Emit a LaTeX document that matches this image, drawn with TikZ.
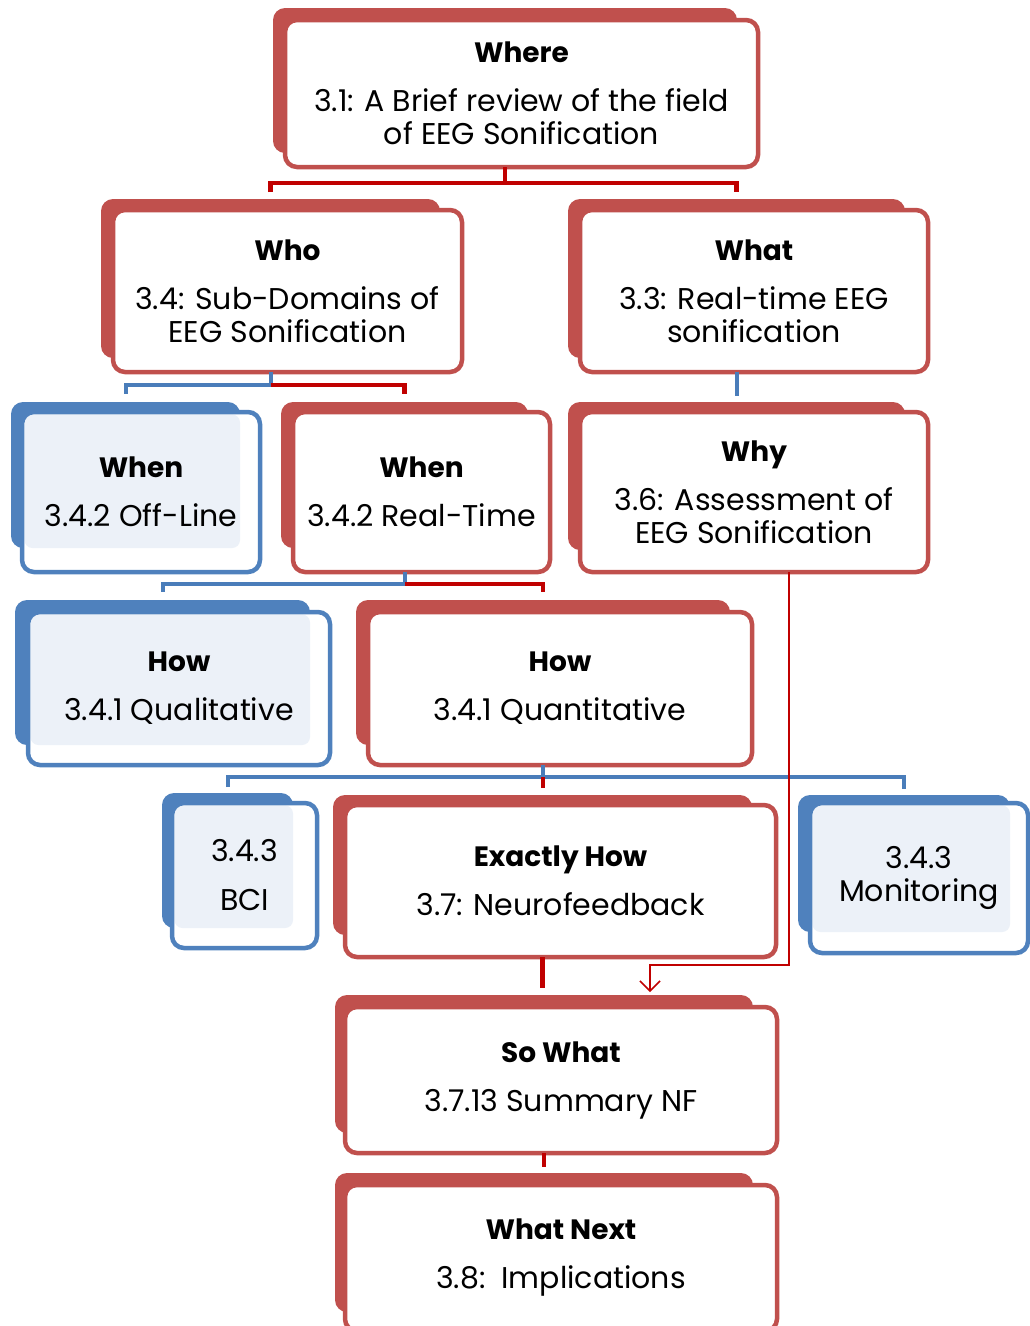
\documentclass[tikz,border=0pt]{standalone}
\usepackage{fontspec}
\setmainfont{Poppins}
\usetikzlibrary{calc,arrows.meta}

\definecolor{rback}{HTML}{C0504D}
\definecolor{bback}{HTML}{4F81BD}
\definecolor{redline}{HTML}{C00000}
\definecolor{blueline}{HTML}{4A7DBA}
\definecolor{lblue}{HTML}{ECF1F8}

\newcommand\subf{\fontsize{30}{33}\selectfont}
\newcommand\ttl[1]{{\fontsize{28}{33}\selectfont\bfseries #1}}

\pgfdeclarelayer{bg}
\pgfsetlayers{bg,main}

\tikzset{
  backshape/.style={rounded corners=12, inner sep=0, outer sep=0, anchor=north west, draw=none},
  rbk/.style={backshape, fill=rback},
  bbk/.style={backshape, fill=bback},
  frontshape/.style={rounded corners=12, inner sep=0, outer sep=0, anchor=north west,
    line width=4.5, fill=white, align=center, text=black, font=\subf},
  rfr/.style={frontshape, draw=rback},
  bfr/.style={frontshape, draw=bback,
    path picture={\fill[lblue, rounded corners=8]
      ($(path picture bounding box.north west)+(2.5,2.5)$) rectangle (#1.south east);}},
  redc/.style={draw=redline, line width=4.5},
  bluec/.style={draw=blueline, line width=4},
  thinc/.style={draw=redline, line width=1.5, -{Straight Barb[length=10,width=20,line width=1.5]}},
}

% back plate of a box: style, name, x0, y0, x1, y1
\newcommand\plate[6]{\begin{pgfonlayer}{bg}
  \node[#1, minimum width={#5-#3}, minimum height={#6-#4}] (#2) at (#3,#4) {};
\end{pgfonlayer}}

\begin{document}
\begin{tikzpicture}[x=1pt,y=-1pt]
\useasboundingbox (0,0) rectangle (1030,1326);

% ---- row 1
\plate{rbk}{whereB}{273}{8}{737}{153}
\node[rfr, minimum width=473, minimum height=147] (where) at (285,20)
  {\ttl{Where}\\[16pt]3.1: A Brief review of the field\\of EEG Sonification};

% ---- row 2
\plate{rbk}{whoB}{101}{199}{440}{358}
\node[rfr, minimum width=349, minimum height=162] (who) at (113,210)
  {\ttl{Who}\\[16pt]3.4: Sub-Domains of\\EEG Sonification};
\plate{rbk}{whatB}{568}{199}{905}{358}
\node[rfr, minimum width=348, minimum height=162] (what) at (580,210)
  {\ttl{What}\\[16pt]3.3: Real-time EEG\\sonification};

% ---- row 3
\plate{bbk}{offB}{11}{402}{240}{548}
\node[bfr=offB, minimum width=238, minimum height=160] (off) at (22,412)
  {\ttl{When}\\[16pt]3.4.2 Off-Line};
\plate{rbk}{rtB}{281}{402}{528}{548}
\node[rfr, minimum width=257, minimum height=160] (rt) at (293,412)
  {\ttl{When}\\[16pt]3.4.2 Real-Time};
\plate{rbk}{whyB}{568}{402}{905}{550}
\node[rfr, minimum width=348, minimum height=160] (why) at (580,412)
  {\ttl{Why}\\[16pt]3.6: Assessment of\\EEG Sonification};

% ---- row 4
\plate{bbk}{qualB}{15}{600}{310}{745}
\node[bfr=qualB, minimum width=302, minimum height=153] (qual) at (28,612)
  {\ttl{How}\\[16pt]3.4.1 Qualitative};
\plate{rbk}{quantB}{356}{600}{730}{745}
\node[rfr, minimum width=384, minimum height=153] (quant) at (368,612)
  {\ttl{How}\\[16pt]3.4.1 Quantitative};

% ---- row 5
\plate{bbk}{bciB}{162}{793}{293}{928}
\node[bfr=bciB, minimum width=145, minimum height=145] (bci) at (172,803)
  {3.4.3\\[16pt]BCI};
\plate{rbk}{exactB}{333}{795}{752}{935}
\node[rfr, minimum width=431, minimum height=152] (exact) at (345,805)
  {\ttl{Exactly How}\\[16pt]3.7: Neurofeedback};
\plate{bbk}{monB}{798}{795}{1010}{932}
\node[bfr=monB, minimum width=218, minimum height=150] (mon) at (810,803)
  {3.4.3\\Monitoring};

% ---- rows 6 and 7
\plate{rbk}{sowhatB}{335}{995}{753}{1133}
\node[rfr, minimum width=432, minimum height=146] (sowhat) at (345,1007)
  {\ttl{So What}\\[16pt]3.7.13 Summary NF};
\plate{rbk}{nextB}{335}{1173}{753}{1312}
\node[rfr, minimum width=432, minimum height=146] (next) at (345,1185)
  {\ttl{What Next}\\[16pt]3.8:\ \ Implications};

% ---- connectors
\coordinate (bus1) at (0,183);
\coordinate (bus2) at (0,385);
\coordinate (bus3) at (0,584);
\coordinate (bus4) at (0,777);

\draw[redc] (whereB.south |- where.south) -- (whereB.south |- bus1);
\draw[redc] ($(whoB.north)+(0,-7)$) -- (whoB.north |- bus1) -- (whatB.north |- bus1) -- ($(whatB.north)+(0,-7)$);

\draw[bluec] (whoB.south |- who.south) -- (whoB.south |- bus2) -- (offB.north |- bus2) -- ($(offB.north)+(0,-8)$);
\draw[redc] (whoB.south |- bus2) -- (rtB.north |- bus2) -- ($(rtB.north)+(0,-8)$);

\draw[bluec] (whatB.south |- what.south) -- ($(whatB.south |- whyB.north)+(0,-6)$);

\draw[bluec] (rtB.south |- rt.south) -- (rtB.south |- bus3) -- (qualB.north |- bus3) -- ($(qualB.north)+(0,-8)$);
\draw[redc] (rtB.south |- bus3) -- (quantB.north |- bus3) -- ($(quantB.north)+(0,-8)$);

\draw[bluec] (quantB.south |- quant.south) -- (quantB.south |- bus4);
\draw[bluec] ($(bciB.north)+(0,-6)$) -- (bciB.north |- bus4) -- (monB.north |- bus4) -- ($(monB.north)+(0,-6)$);
\draw[redc] (quantB.south |- bus4) -- ($(quantB.south |- exactB.north)+(0,-7)$);

\draw[redc] (exactB.south |- exact.south) -- ($(exactB.south |- sowhatB.north)+(0,-7)$);
\draw[redc] (sowhatB.south |- sowhat.south) -- ($(sowhatB.south |- nextB.north)+(0,-6)$);

% assessment feeds the summary
\coordinate (tap) at (789,965);
\coordinate (drop) at (650,992);
\draw[thinc] (why.south -| tap) -- (tap) -| (drop);

\end{tikzpicture}
\end{document}
